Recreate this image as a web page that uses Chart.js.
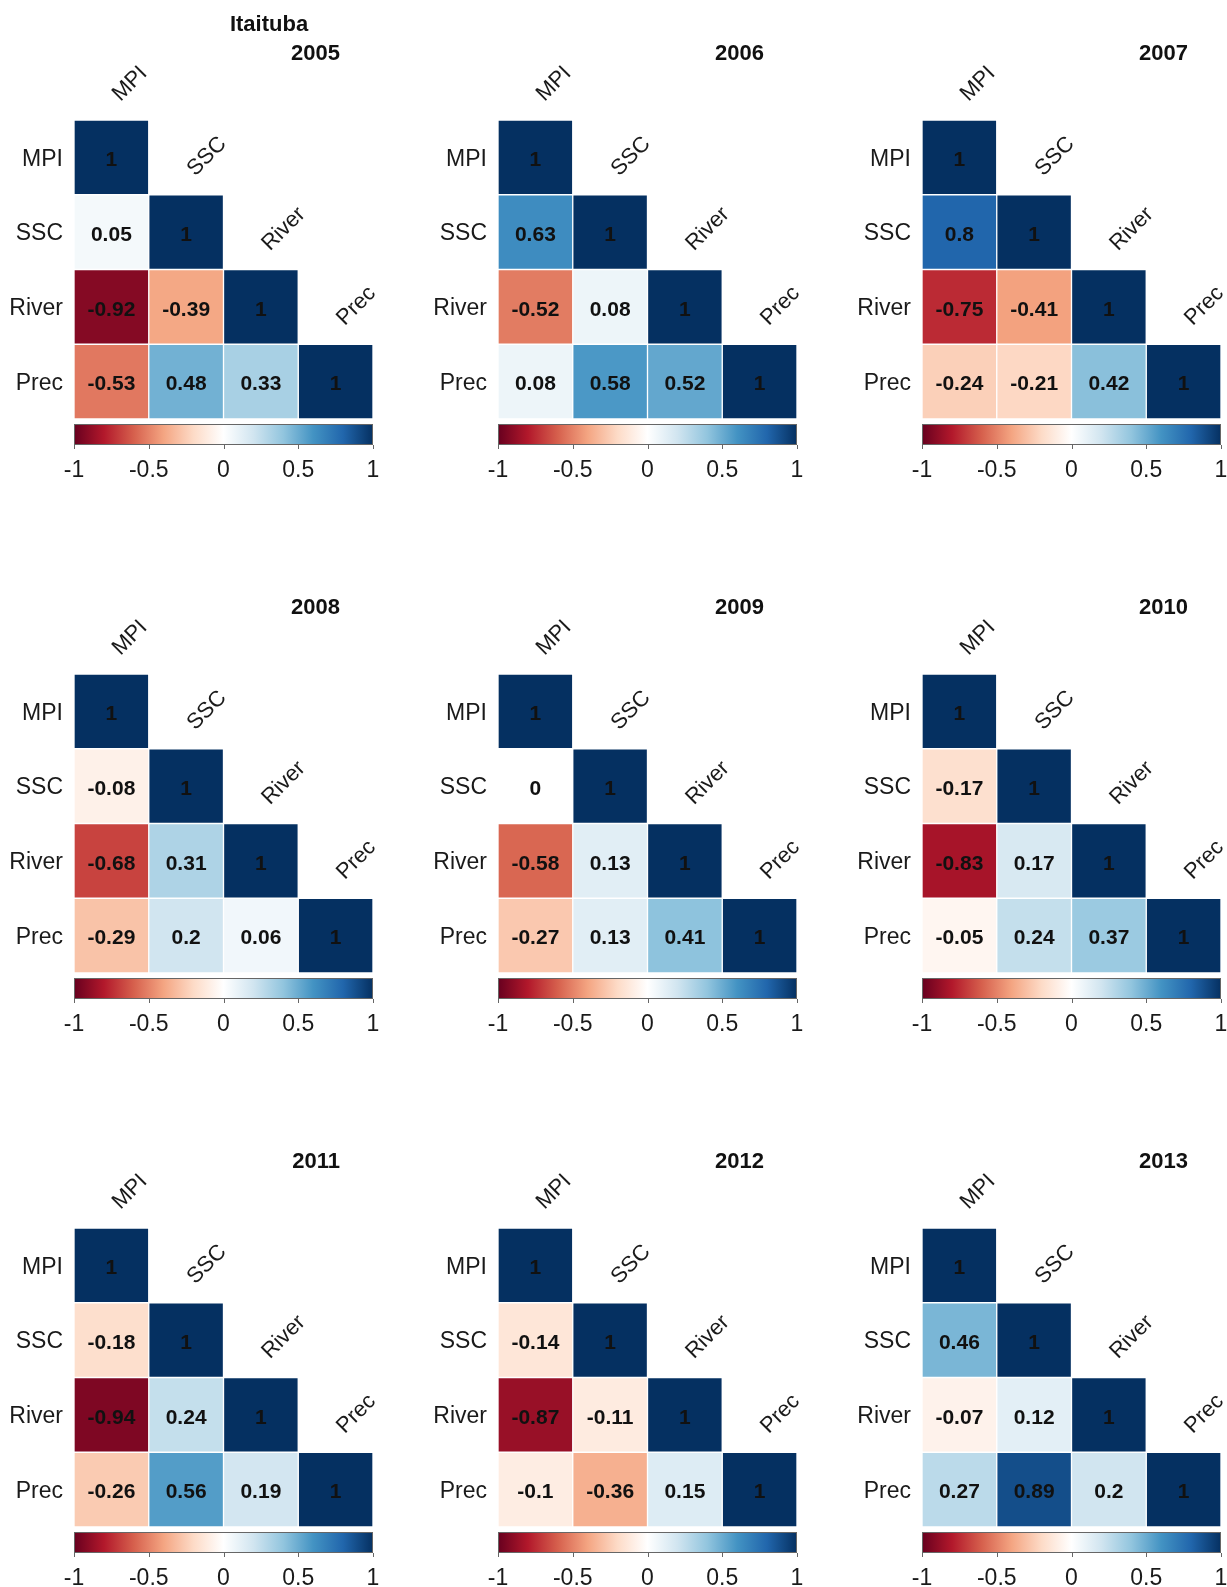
<!DOCTYPE html>
<html>
<head>
<meta charset="utf-8">
<script src="https://cdn.jsdelivr.net/npm/chart.js@4.4.0/dist/chart.umd.min.js"></script>
<style>
  html, body { margin: 0; padding: 0; background: #fff; overflow: hidden; width: 1227px; height: 1587px; }
  canvas { position: absolute; }
</style>
</head>
<body>
<script>
// variables in the correlation matrix
const vars = ['MPI', 'SSC', 'River', 'Prec'];
const years = [2005, 2006, 2007, 2008, 2009, 2010, 2011, 2012, 2013];
const station = 'Itaituba';

// lower triangle: SSC~MPI, River~MPI, River~SSC, Prec~MPI, Prec~SSC, Prec~River
const r2005 = [0.05, -0.92, -0.39, -0.53, 0.48, 0.33];
const r2006 = [0.63, -0.52, 0.08, 0.08, 0.58, 0.52];
const r2007 = [0.8, -0.75, -0.41, -0.24, -0.21, 0.42];
const r2008 = [-0.08, -0.68, 0.31, -0.29, 0.2, 0.06];
const r2009 = [0, -0.58, 0.13, -0.27, 0.13, 0.41];
const r2010 = [-0.17, -0.83, 0.17, -0.05, 0.24, 0.37];
const r2011 = [-0.18, -0.94, 0.24, -0.26, 0.56, 0.19];
const r2012 = [-0.14, -0.87, -0.11, -0.1, -0.36, 0.15];
const r2013 = [0.46, -0.07, 0.12, 0.27, 0.89, 0.2];
const yearValues = [r2005, r2006, r2007, r2008, r2009, r2010, r2011, r2012, r2013];

const cbTicks = [-1, -0.5, 0, 0.5, 1];

// RdBu palette, -1 .. 1
const rdbu = ['#67001F', '#B2182B', '#D6604D', '#F4A582', '#FDDBC7', '#FFFFFF',
              '#D1E5F0', '#92C5DE', '#4393C3', '#2166AC', '#053061'];

const FONT = "'Liberation Sans', Arial, sans-serif";

function hexToRgb(h) {
  return [parseInt(h.slice(1, 3), 16), parseInt(h.slice(3, 5), 16), parseInt(h.slice(5, 7), 16)];
}

function corrColor(v) {
  const t = (v + 1) / 2 * (rdbu.length - 1);
  const i = Math.min(Math.floor(t), rdbu.length - 2);
  const f = t - i;
  const a = hexToRgb(rdbu[i]), b = hexToRgb(rdbu[i + 1]);
  const c = a.map((x, k) => Math.round(x + (b[k] - x) * f));
  return `rgb(${c[0]},${c[1]},${c[2]})`;
}

function buildMatrix(lower) {
  return [
    [1],
    [lower[0], 1],
    [lower[1], lower[2], 1],
    [lower[3], lower[4], lower[5], 1]
  ];
}

const corrPlugin = {
  id: 'corrLabels',
  afterDatasetsDraw(chart, args, opts) {
    const ctx = chart.ctx;
    const m = opts.matrix;
    const xm = chart.scales.xm;
    const ys = chart.scales.y;
    const cellH = ys.getPixelForValue(1) - ys.getPixelForValue(0);
    ctx.save();
    // cell values
    ctx.font = `bold 21px ${FONT}`;
    ctx.fillStyle = '#111';
    ctx.textAlign = 'center';
    ctx.textBaseline = 'middle';
    chart.data.datasets.forEach((ds, j) => {
      const meta = chart.getDatasetMeta(j);
      meta.data.forEach((el, r) => {
        if (r < j) return;
        const p = el.getProps(['x', 'y', 'base'], true);
        ctx.fillText(String(m[r][j]), (p.x + p.base) / 2, p.y + 3);
      });
    });
    // rotated column labels on the diagonal
    ctx.font = `22px ${FONT}`;
    ctx.fillStyle = '#1a1a1a';
    ctx.textAlign = 'left';
    ctx.textBaseline = 'alphabetic';
    vars.forEach((v, j) => {
      const x = xm.getPixelForValue(j + 0.5) + 9;
      const y = ys.getPixelForValue(j) - cellH / 2 - 18;
      ctx.save();
      ctx.translate(x, y);
      ctx.rotate(-Math.PI / 4);
      ctx.fillText(v, 0, 0);
      ctx.restore();
    });
    ctx.restore();
  },
  afterDraw(chart, args, opts) {
    const ctx = chart.ctx;
    const area = chart.chartArea;
    const cb = chart.scales.cb;
    const x0 = cb.getPixelForValue(-1), x1 = cb.getPixelForValue(1);
    const y0 = area.bottom + 5, h = 21;
    ctx.save();
    const g = ctx.createLinearGradient(x0, 0, x1, 0);
    rdbu.forEach((c, i) => g.addColorStop(i / (rdbu.length - 1), c));
    ctx.fillStyle = g;
    ctx.fillRect(x0, y0, x1 - x0, h);
    ctx.strokeStyle = '#666';
    ctx.lineWidth = 1;
    ctx.strokeRect(x0 + 0.5, y0 + 0.5, x1 - x0 - 1, h - 1);
    cbTicks.forEach(t => {
      const x = Math.round(cb.getPixelForValue(t)) + 0.5;
      ctx.beginPath();
      ctx.moveTo(x, y0 + h);
      ctx.lineTo(x, y0 + h + 4);
      ctx.stroke();
    });
    // titles
    ctx.fillStyle = '#111';
    ctx.font = `bold 22px ${FONT}`;
    ctx.textBaseline = 'middle';
    ctx.textAlign = 'right';
    ctx.fillText(String(opts.year), area.left + 266, area.top - 66);
    if (opts.first) {
      ctx.textAlign = 'center';
      ctx.fillText(station, area.left + 195, area.top - 95);
    }
    ctx.restore();
  }
};

years.forEach((year, idx) => {
  const col = idx % 3, row = Math.floor(idx / 3);
  const canvas = document.createElement('canvas');
  canvas.width = 424;
  canvas.height = 481;
  canvas.style.left = (col * 424) + 'px';
  canvas.style.top = (row * 554) + 'px';
  document.body.appendChild(canvas);

  const m = buildMatrix(yearValues[idx]);
  const datasets = vars.map((v, j) => ({
    label: v,
    xAxisID: 'xm',
    data: vars.map((_, r) => (r >= j ? [j, j + 1] : null)),
    backgroundColor: vars.map((_, r) => (r >= j ? corrColor(m[r][j]) : 'transparent')),
    borderColor: '#ffffff',
    borderWidth: 1,
    borderSkipped: false,
    barPercentage: 1,
    categoryPercentage: 1,
    grouped: false
  }));

  new Chart(canvas.getContext('2d'), {
    type: 'bar',
    data: { labels: vars, datasets },
    options: {
      indexAxis: 'y',
      responsive: false,
      animation: false,
      devicePixelRatio: 1,
      layout: { padding: { left: 0, top: 120, right: 51, bottom: 0 } },
      plugins: {
        legend: { display: false },
        tooltip: { enabled: false },
        corrLabels: { matrix: m, year: year, first: idx === 0 }
      },
      scales: {
        y: {
          type: 'category',
          position: 'left',
          grid: { display: false, drawTicks: false },
          border: { display: false },
          ticks: { color: '#1a1a1a', padding: 11, labelOffset: 2, font: { family: FONT, size: 23 } },
          afterFit(axis) { axis.width = 74; }
        },
        xm: {
          type: 'linear',
          position: 'bottom',
          min: 0,
          max: 4,
          display: false
        },
        cb: {
          type: 'linear',
          position: 'bottom',
          min: -1,
          max: 1,
          grid: { display: false, drawTicks: false },
          border: { display: false },
          afterBuildTicks(axis) { axis.ticks = cbTicks.map(v => ({ value: v })); },
          ticks: {
            color: '#1a1a1a',
            padding: 38,
            font: { family: FONT, size: 23 },
            autoSkip: false,
            maxRotation: 0,
            callback: v => String(v)
          },
          afterFit(axis) { axis.height = 62; }
        }
      }
    },
    plugins: [corrPlugin]
  });
});
</script>
</body>
</html>
